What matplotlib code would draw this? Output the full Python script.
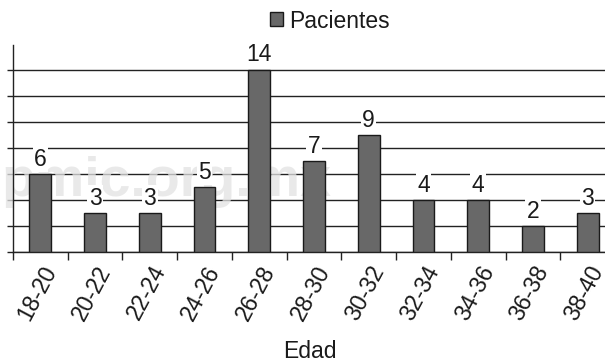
import matplotlib
matplotlib.use("Agg")
import matplotlib.pyplot as plt
import numpy as np

plt.rcParams['font.family'] = ['Liberation Sans', 'DejaVu Sans']

edades = ["18-20", "20-22", "22-24", "24-26", "26-28", "28-30",
          "30-32", "32-34", "34-36", "36-38", "38-40"]
pacientes = [6, 3, 3, 5, 14, 7, 9, 4, 4, 2, 3]

fig = plt.figure(figsize=(6.05, 3.64), dpi=100)
ax = fig.add_axes([13 / 605, 112 / 364, 602 / 605, 207 / 364])

x = np.arange(len(edades))
ax.set_axisbelow(True)
ax.yaxis.grid(True, color="#222222", linewidth=1.0, zorder=1)
bars = ax.bar(x, pacientes, width=0.4, color="#686868", edgecolor="#1a1a1a",
              linewidth=1.0, label="Pacientes", zorder=3)

for xi, v in zip(x, pacientes):
    ax.text(xi, v + 0.25, str(v), ha="center", va="bottom", fontsize=16.5,
            color="#1a1a1a", zorder=4,
            bbox=dict(facecolor="white", edgecolor="none", pad=1.0))

# faint watermark seen in the source image
ax.text(0.255, 0.34, "pmic.org.mx", transform=ax.transAxes, fontsize=40,
        fontweight="bold", color="#e2e2e2", alpha=0.75, ha="center",
        va="center", zorder=2)

ax.set_xlim(-0.5, len(edades) - 0.5)
ax.set_ylim(0, 15.9)
ax.set_yticks(np.arange(0, 15, 2))
ax.set_yticklabels([])
ax.tick_params(axis="y", length=4, width=1, color="#222222")

ax.set_xticks(x)
ax.set_xticklabels(edades, rotation=62, ha="right", rotation_mode="anchor",
                   fontsize=16.5, color="#1a1a1a")
ax.set_xticks(np.arange(-0.5, len(edades), 1), minor=True)
ax.tick_params(axis="x", which="major", length=0, pad=7)
ax.tick_params(axis="x", which="minor", length=6, width=1, color="#222222")

for s in ["top", "right"]:
    ax.spines[s].set_visible(False)
for s in ["left", "bottom"]:
    ax.spines[s].set_color("#222222")
    ax.spines[s].set_linewidth(1.0)

fig.text(310 / 605, 1 - 351 / 364, "Edad", ha="center", va="center",
         fontsize=16.5, color="#1a1a1a")

leg = fig.legend(handles=[bars], labels=["Pacientes"], loc="center",
                 bbox_to_anchor=(330 / 605, 1 - 21 / 364), frameon=False,
                 fontsize=16.5, handlelength=0.55, handleheight=0.55,
                 handletextpad=0.3)
for t in leg.get_texts():
    t.set_color("#1a1a1a")

fig.savefig("out.png", dpi=100)
